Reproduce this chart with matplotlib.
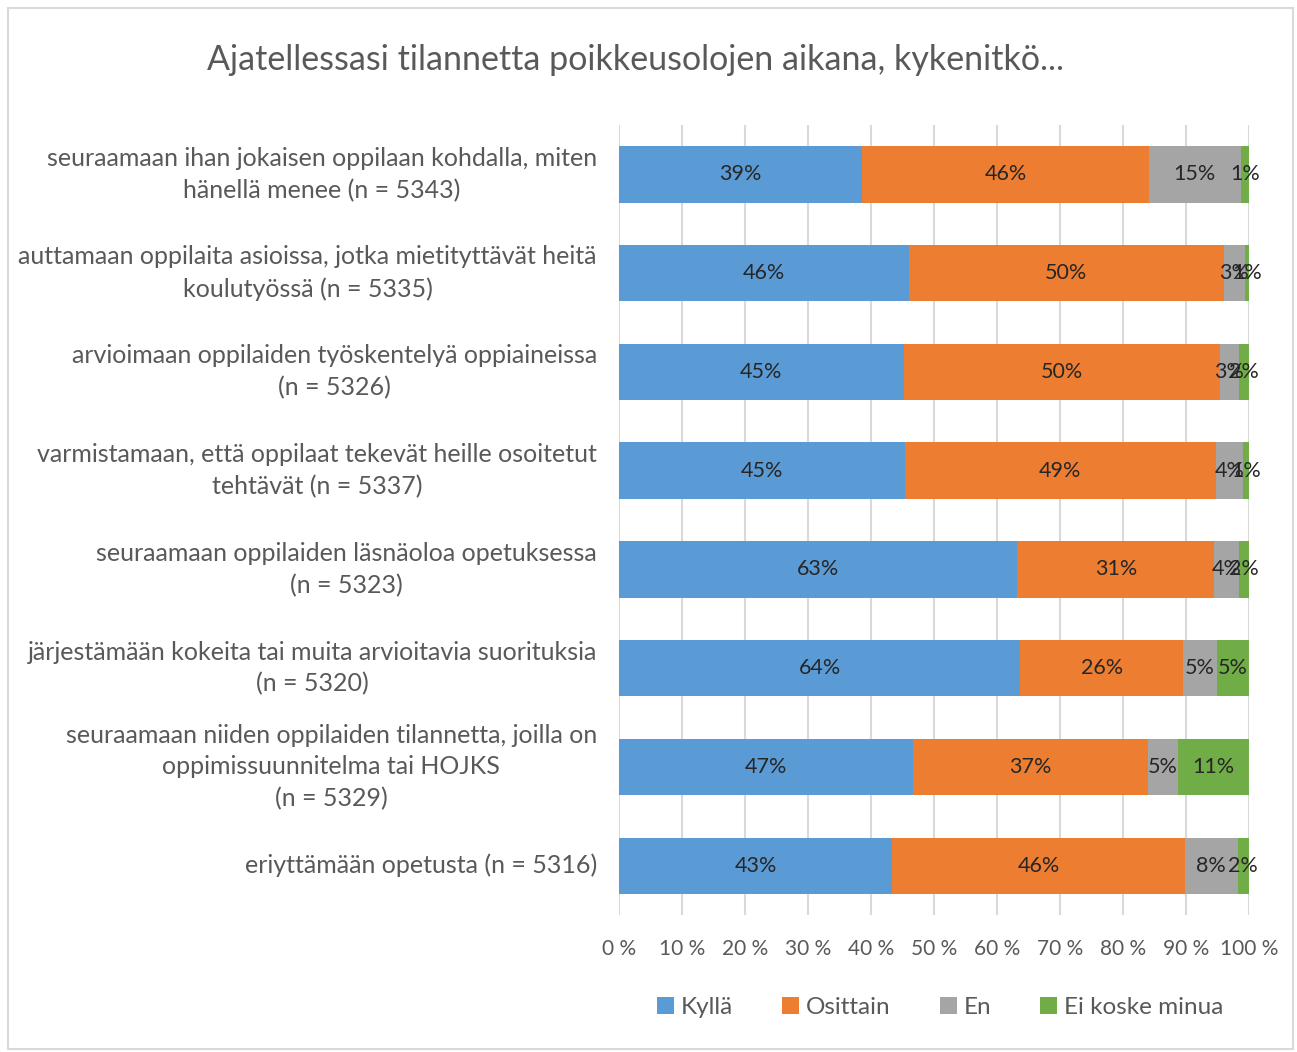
import matplotlib.pyplot as plt
import matplotlib.patches as mpatches
import numpy as np

categories = [
    'seuraamaan ihan jokaisen oppilaan kohdalla, miten\nhänellä menee (n = 5343)',
    'auttamaan oppilaita asioissa, jotka mietityttävät heitä\nkoulutyössä (n = 5335)',
    'arvioimaan oppilaiden työskentelyä oppiaineissa\n(n = 5326)',
    'varmistamaan, että oppilaat tekevät heille osoitetut\ntehtävät (n = 5337)',
    'seuraamaan oppilaiden läsnäoloa opetuksessa\n(n = 5323)',
    'järjestämään kokeita tai muita arvioitavia suorituksia\n(n = 5320)',
    'seuraamaan niiden oppilaiden tilannetta, joilla on\noppimissuunnitelma tai HOJKS\n(n = 5329)',
    'eriyttämään opetusta (n = 5316)',
]
series = ['Kyllä', 'Osittain', 'En', 'Ei koske minua']
kylla = [38.6, 46.0, 45.2, 45.4, 63.2, 63.7, 46.7, 43.4]
osittain = [45.5, 50.0, 50.2, 49.3, 31.3, 25.9, 37.3, 46.4]
en = [14.6, 3.3, 3.0, 4.4, 3.9, 5.3, 4.7, 8.4]
ei_koske = [1.3, 0.7, 1.6, 0.9, 1.6, 5.1, 11.3, 1.8]
colors = ['#5B9BD5', '#ED7D31', '#A5A5A5', '#70AD47']

plt.rcParams['font.family'] = ['Lato', 'DejaVu Sans']
grey = '#595959'

fig = plt.figure(figsize=(12.97, 10.52), dpi=100)
fig.patches.append(mpatches.Rectangle((0.006, 0.003), 0.991, 0.989, transform=fig.transFigure,
                                      fill=False, edgecolor='#d9d9d9', linewidth=1.5))
ax = fig.add_axes([0.4773, 0.1302, 0.4857, 0.751])

y = np.arange(len(categories))
left = np.zeros(len(categories))
for name, vals, col in zip(series, [kylla, osittain, en, ei_koske], colors):
    vals = np.array(vals)
    ax.barh(y, vals, left=left, height=0.57, color=col, label=name, zorder=3)
    for yi, l, v in zip(y, left, vals):
        ax.text(l + v / 2, yi, '%d%%' % round(v), ha='center', va='center',
                fontsize=15.5, color='#262626', zorder=4)
    left += vals

ax.set_xlim(0, 100)
ax.set_ylim(len(categories) - 0.5, -0.5)
ax.set_xticks(np.arange(0, 101, 10))
ax.set_xticklabels(['%d %%' % t for t in range(0, 101, 10)], fontsize=15, color=grey)
ax.set_yticks(y)
ax.set_yticklabels(categories, fontsize=18, color=grey, linespacing=1.45)
for lab in ax.get_yticklabels():
    lab.set_multialignment('center')
    lab.set_va('center')
ax.tick_params(axis='both', length=0)
ax.tick_params(axis='y', pad=16)
ax.tick_params(axis='x', pad=17)
ax.grid(axis='x', color='#d9d9d9', linewidth=1.5, zorder=0)
for s in ax.spines.values():
    s.set_visible(False)

fig.suptitle('Ajatellessasi tilannetta poikkeusolojen aikana, kykenitkö...', x=0.49, y=0.958,
             fontsize=24.5, color=grey)

fig.legend(loc='center', bbox_to_anchor=(0.725, 0.042), ncol=4, frameon=False, fontsize=17.5,
           labelcolor=grey, handlelength=0.7, handleheight=0.7, handletextpad=0.3,
           columnspacing=2.0)

plt.savefig('out.png', dpi=100)
